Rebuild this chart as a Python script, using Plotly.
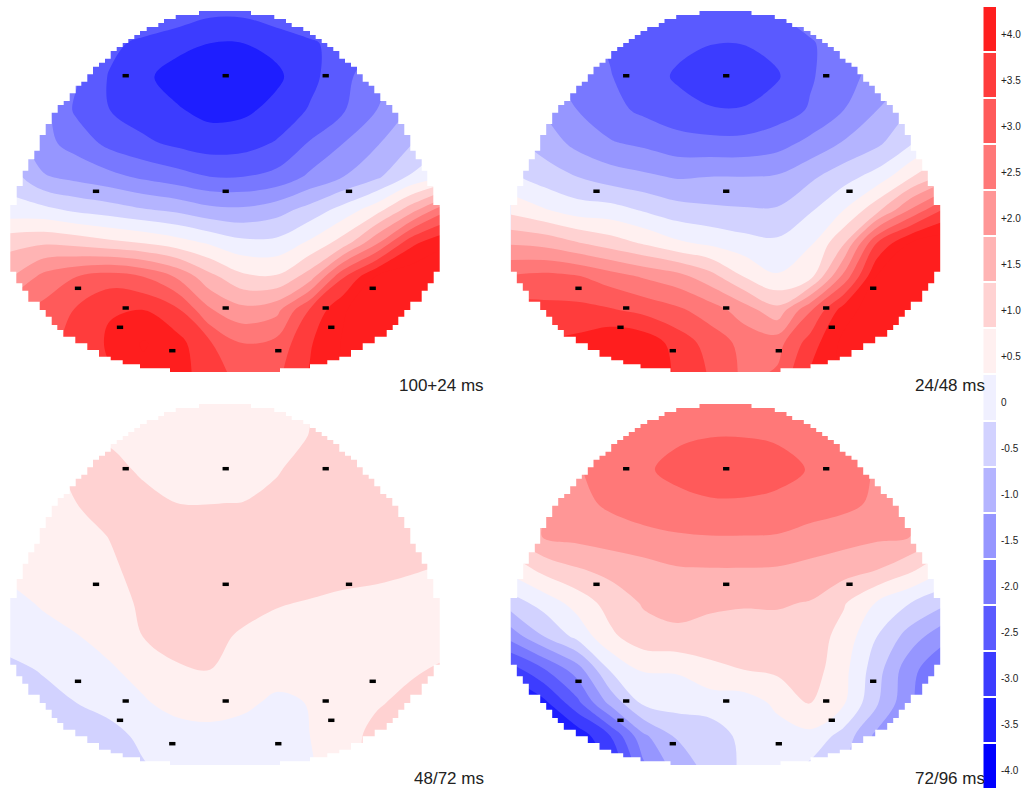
import plotly.graph_objects as go

LEVELS = [-4.0, -3.5, -3.0, -2.5, -2.0, -1.5, -1.0, -0.5, 0, 0.5, 1.0, 1.5, 2.0, 2.5, 3.0, 3.5, 4.0]
LEVEL_LABELS = ["-4.0", "-3.5", "-3.0", "-2.5", "-2.0", "-1.5", "-1.0", "-0.5", "0",
                "+0.5", "+1.0", "+1.5", "+2.0", "+2.5", "+3.0", "+3.5", "+4.0"]
LEVEL_COLORS = ["#0000ff", "#1e1eff", "#3c3cff", "#5a5aff", "#7878ff", "#9696ff", "#b4b4ff", "#d2d2ff", "#f0f0ff",
                "#fff0f0", "#ffd2d2", "#ffb4b4", "#ff9696", "#ff7878", "#ff5a5a", "#ff3c3c", "#ff1e1e"]

PANEL_TITLES = ["100+24 ms", "24/48 ms", "48/72 ms", "72/96 ms"]

GRID_X = [10, 43.3, 76.7, 110, 143.3, 176.7, 210, 243.3, 276.7, 310, 343.3, 376.7, 410, 443.3]
GRID_Y = [10, 43.3, 76.7, 110, 143.3, 176.7, 210, 243.3, 276.7, 310, 343.3, 376.7]

MAP_A = [
    [-1.3, -1.5, -1.7, -1.9, -2.1, -2.35, -2.6, -2.6, -2.35, -2.1, -1.9, -1.7, -1.5, -1.3],
    [-1.7, -2.0, -2.3, -2.6, -2.9, -3.1, -3.25, -3.25, -3.1, -2.85, -2.5, -2.2, -1.9, -1.6],
    [-1.5, -1.8, -2.2, -2.8, -3.15, -3.45, -3.7, -3.7, -3.35, -2.9, -2.4, -1.9, -1.5, -1.2],
    [-1.0, -1.6, -2.35, -2.75, -3.0, -3.2, -3.4, -3.35, -3.1, -2.7, -2.3, -1.75, -1.2, -0.8],
    [-0.9, -1.6, -1.95, -2.4, -2.65, -2.85, -3.0, -2.95, -2.7, -2.2, -1.75, -1.3, -0.8, -0.3],
    [-0.5, -1.2, -1.4, -1.6, -1.85, -2.05, -2.25, -2.25, -2.1, -1.65, -1.25, -0.85, -0.2, 0.2],
    [-0.05, -0.1, -0.35, -0.5, -0.7, -0.85, -1.1, -1.15, -0.95, -0.55, -0.05, 0.55, 1.5, 2.6],
    [1.1, 1.2, 1.1, 0.9, 0.75, 0.5, 0.2, -0.1, -0.1, 0.35, 1.0, 2.2, 3.6, 4.2],
    [1.7, 2.4, 2.75, 3.0, 2.75, 2.2, 1.4, 0.85, 0.8, 1.5, 3.2, 4.3, 4.6, 4.6],
    [2.6, 2.9, 3.3, 3.7, 3.75, 3.35, 2.3, 1.9, 2.1, 3.3, 4.2, 4.6, 4.6, 4.6],
    [3.0, 3.2, 3.3, 3.85, 4.3, 3.95, 3.3, 2.75, 2.9, 3.7, 4.3, 4.6, 4.6, 4.6],
    [3.0, 3.2, 3.4, 3.7, 4.1, 4.0, 3.45, 3.1, 3.15, 3.8, 4.3, 4.6, 4.6, 4.6],
]

MAP_B = [
    [-1.2, -1.4, -1.6, -1.9, -2.1, -2.2, -2.35, -2.35, -2.2, -2.0, -1.8, -1.5, -1.3, -1.1],
    [-1.5, -1.8, -2.0, -2.3, -2.5, -2.62, -2.73, -2.73, -2.6, -2.3, -2.0, -1.7, -1.4, -1.1],
    [-1.3, -1.6, -1.95, -2.23, -2.5, -2.82, -3.1, -3.15, -2.8, -2.3, -1.95, -1.55, -1.2, -0.9],
    [-0.9, -1.3, -1.75, -2.1, -2.35, -2.55, -2.7, -2.7, -2.5, -2.2, -1.75, -1.25, -0.75, -0.4],
    [-0.6, -0.95, -1.4, -1.7, -1.85, -2.05, -2.1, -2.1, -1.95, -1.6, -1.2, -0.85, -0.3, 0.3],
    [-0.15, -0.5, -0.75, -1.0, -1.15, -1.3, -1.25, -1.25, -1.2, -0.85, -0.45, -0.05, 0.7, 1.4],
    [0.6, 0.3, 0.0, -0.05, -0.3, -0.55, -0.65, -0.7, -0.7, -0.3, 0.25, 1.1, 2.3, 3.3],
    [1.7, 1.6, 1.3, 1.0, 0.7, 0.35, 0.15, -0.05, -0.15, 0.2, 1.2, 3.3, 4.3, 4.6],
    [2.8, 2.9, 2.8, 2.5, 2.2, 1.95, 1.45, 0.75, 0.3, 0.6, 2.4, 4.3, 4.6, 4.6],
    [3.5, 3.4, 3.4, 3.3, 3.1, 2.85, 2.5, 2.0, 1.4, 2.7, 4.0, 4.6, 4.6, 4.6],
    [3.8, 3.8, 3.9, 4.2, 4.1, 3.55, 3.05, 2.6, 2.55, 3.5, 4.4, 4.6, 4.6, 4.6],
    [3.8, 3.8, 4.0, 4.2, 4.0, 3.7, 3.2, 2.65, 2.85, 3.85, 4.4, 4.6, 4.6, 4.6],
]

MAP_C = [
    [0.6, 0.6, 0.65, 0.65, 0.55, 0.5, 0.45, 0.45, 0.5, 0.7, 0.9, 0.95, 0.95, 0.95],
    [0.6, 0.65, 0.75, 0.7, 0.55, 0.45, 0.42, 0.42, 0.5, 0.77, 0.95, 1.0, 1.0, 1.0],
    [0.6, 0.65, 0.8, 0.85, 0.7, 0.55, 0.48, 0.5, 0.72, 0.9, 1.0, 1.05, 1.05, 1.05],
    [0.55, 0.6, 0.75, 0.88, 0.85, 0.75, 0.74, 0.76, 0.85, 1.0, 1.05, 1.05, 1.05, 1.05],
    [0.5, 0.55, 0.65, 0.76, 0.88, 0.95, 1.0, 1.05, 1.05, 1.05, 1.05, 1.05, 1.0, 0.95],
    [0.35, 0.5, 0.6, 0.7, 0.85, 0.95, 1.0, 1.0, 1.0, 0.95, 0.9, 0.85, 0.78, 0.72],
    [0.12, 0.3, 0.5, 0.63, 0.8, 0.88, 0.9, 0.88, 0.78, 0.72, 0.65, 0.62, 0.6, 0.6],
    [0.0, 0.1, 0.23, 0.4, 0.76, 0.85, 0.85, 0.7, 0.6, 0.55, 0.55, 0.55, 0.55, 0.55],
    [-0.4, -0.2, -0.05, 0.2, 0.4, 0.72, 0.75, 0.55, 0.45, 0.4, 0.45, 0.6, 0.68, 0.82],
    [-0.6, -0.45, -0.25, -0.1, 0.2, 0.4, 0.45, 0.35, 0.15, 0.27, 0.5, 0.7, 0.88, 0.95],
    [-0.7, -0.6, -0.55, -0.4, -0.15, 0.05, 0.1, 0.05, 0.05, 0.25, 0.55, 0.9, 1.0, 1.0],
    [-0.8, -0.7, -0.6, -0.5, -0.3, -0.1, -0.1, -0.1, -0.05, 0.2, 0.5, 0.9, 1.0, 1.0],
]

MAP_D = [
    [1.8, 1.9, 2.1, 2.25, 2.35, 2.4, 2.45, 2.45, 2.4, 2.35, 2.2, 2.05, 1.9, 1.8],
    [1.85, 2.05, 2.25, 2.4, 2.6, 2.7, 2.74, 2.74, 2.7, 2.6, 2.4, 2.25, 2.1, 1.9],
    [1.7, 1.95, 2.2, 2.5, 2.7, 2.85, 3.0, 3.0, 2.9, 2.72, 2.5, 2.2, 1.95, 1.7],
    [1.4, 1.7, 2.1, 2.35, 2.55, 2.65, 2.7, 2.7, 2.65, 2.55, 2.4, 2.15, 1.7, 1.4],
    [1.2, 1.8, 1.9, 2.0, 2.1, 2.2, 2.24, 2.24, 2.22, 2.05, 1.95, 1.85, 1.75, 1.2],
    [0.4, 0.9, 1.2, 1.4, 1.55, 1.7, 1.72, 1.72, 1.7, 1.6, 1.45, 1.25, 0.85, 0.3],
    [-0.5, -0.05, 0.45, 0.95, 1.3, 1.4, 1.32, 1.3, 1.3, 1.22, 0.8, 0.2, -0.25, -0.65],
    [-1.55, -0.75, -0.1, 0.65, 1.05, 1.15, 1.1, 1.0, 1.05, 1.05, 0.55, -0.25, -0.98, -1.6],
    [-3.0, -2.3, -1.5, -0.2, 0.3, 0.3, 0.6, 0.75, 0.85, 1.0, 0.4, -0.55, -1.6, -2.2],
    [-4.0, -3.4, -2.4, -1.1, -0.15, -0.05, 0.0, 0.0, 0.35, 0.8, 0.3, -0.7, -1.7, -2.2],
    [-4.2, -4.0, -3.6, -2.75, -1.35, -0.7, -0.55, -0.1, 0.05, 0.1, -0.45, -1.4, -1.8, -2.2],
    [-4.2, -4.0, -3.8, -3.2, -1.9, -1.05, -0.6, -0.15, -0.1, -0.4, -0.7, -1.2, -1.6, -1.9],
]

PANEL_MAPS = [MAP_A, MAP_B, MAP_C, MAP_D]

ELECTRODE_X = [125.7, 225.7, 325.7, 96, 225.7, 349, 78, 372.7, 125.7, 225.7, 325.7, 120, 331.3, 172.3, 278.3]
ELECTRODE_Y = [75.7, 75.7, 75.7, 191.3, 191.3, 191.3, 288.3, 288.3, 308, 308, 308, 327.3, 327.3, 350.7, 350.7]

HEAD_CENTER = 225
HEAD_ROW_TOP = [11, 15, 19, 23, 27, 31, 35, 39, 43, 47, 51, 58.7, 62.7, 66.7, 74.3, 81.7, 85.7, 93.3, 101, 105,
                112.7, 124, 135, 150.7, 159.3, 170.7, 186, 205, 271.7, 283.3, 290.7, 301.7, 310, 316.7, 325,
                330, 336.7, 343.3, 350, 356.7, 360.3, 364.3, 368.3]
HEAD_HALF = [26, 49.3, 61, 66.7, 78.3, 85, 90.7, 96.7, 102.3, 108.3, 114.3, 120, 126, 132, 137.7, 143.7, 149.3,
             155.3, 161.3, 167.3, 173.3, 179.3, 185.3, 190.7, 196.7, 202.3, 208.3, 214.7, 208.7, 202.7, 196.7,
             185.3, 179.3, 173.3, 167.7, 161.7, 149.7, 137.7, 126, 114.3, 102.3, 85, 55]
HEAD_ROW_END = 372

RANGE_X = [4, 446]
RANGE_Y = [372, 11]
PANEL_OFFSETS = [(0, 0), (500.5, 0), (0, 393), (500.5, 393)]
W, H = 1028, 797

n_levels = len(LEVELS)
scale = []
for i, c in enumerate(LEVEL_COLORS):
    scale.append([i / n_levels, c])
    scale.append([(i + 1) / n_levels, c])

fig = go.Figure()
layout = dict(width=W, height=H, margin=dict(l=0, r=0, t=0, b=0), paper_bgcolor="white", plot_bgcolor="white",
              showlegend=False, autosize=False)
annotations = []

left_x, left_y, right_x, right_y = [HEAD_CENTER, HEAD_CENTER], [0, HEAD_ROW_TOP[0]], [HEAD_CENTER, HEAD_CENTER], [0, HEAD_ROW_TOP[0]]
rows_end = HEAD_ROW_TOP[1:] + [HEAD_ROW_END]
for half, top, bottom in zip(HEAD_HALF, HEAD_ROW_TOP, rows_end):
    left_x += [HEAD_CENTER - half] * 2
    left_y += [top, bottom]
    right_x += [HEAD_CENTER + half] * 2
    right_y += [top, bottom]
left_x += [HEAD_CENTER, HEAD_CENTER, 0, 0]
left_y += [HEAD_ROW_END, 400, 400, 0]
right_x += [HEAD_CENTER, HEAD_CENTER, 460, 460]
right_y += [HEAD_ROW_END, 400, 400, 0]

for k, (values, title, (dx, dy)) in enumerate(zip(PANEL_MAPS, PANEL_TITLES, PANEL_OFFSETS)):
    suffix = "" if k == 0 else str(k + 1)
    xa, ya = "x" + suffix, "y" + suffix
    layout["xaxis" + suffix] = dict(domain=[(RANGE_X[0] + dx) / W, (RANGE_X[1] + dx) / W], range=RANGE_X,
                                    visible=False, anchor=ya, fixedrange=True)
    layout["yaxis" + suffix] = dict(domain=[1 - (RANGE_Y[0] + dy) / H, 1 - (RANGE_Y[1] + dy) / H], range=RANGE_Y,
                                    visible=False, anchor=xa, fixedrange=True)
    fig.add_trace(go.Contour(x=GRID_X, y=GRID_Y, z=values, xaxis=xa, yaxis=ya, colorscale=scale,
                             zmin=-4.25, zmax=4.25, autocontour=False,
                             contours=dict(start=-4.25, end=4.25, size=0.5, coloring="fill", showlines=False),
                             line=dict(width=0), showscale=False, hoverinfo="skip"))
    for px, py in ((left_x, left_y), (right_x, right_y)):
        fig.add_trace(go.Scatter(x=px, y=py, xaxis=xa, yaxis=ya, mode="lines", fill="toself",
                                 fillcolor="white", line=dict(width=0, color="white"), hoverinfo="skip"))
    fig.add_trace(go.Scatter(x=ELECTRODE_X, y=ELECTRODE_Y, xaxis=xa, yaxis=ya, mode="markers",
                             marker=dict(symbol="line-ew", size=4.5, color="black",
                                         line=dict(width=3.5, color="black")), hoverinfo="skip"))
    annotations.append(dict(text=title, xref="paper", yref="paper", x=(485 + dx) / W, y=1 - (385.5 + dy) / H,
                            xanchor="right", yanchor="middle", showarrow=False,
                            font=dict(family="Liberation Sans, Arial", size=17, color="#222222"), borderpad=0))

fig.add_trace(go.Heatmap(x=[0], y=LEVELS, z=[[v] for v in LEVELS], xaxis="x5", yaxis="y5", colorscale=scale,
                         zmin=-4.25, zmax=4.25, ygap=2, showscale=False, hoverinfo="skip"))
layout["xaxis5"] = dict(domain=[983.3 / W, 996 / W], visible=False, anchor="y5", fixedrange=True)
layout["yaxis5"] = dict(domain=[1 - 789 / H, 1 - 6 / H], range=[-4.25, 4.25], anchor="x5", visible=False,
                        fixedrange=True)
for level, label in zip(LEVELS, LEVEL_LABELS):
    annotations.append(dict(text=label, xref="paper", yref="y5", x=1000 / W, y=level, yshift=-5,
                            xanchor="left", yanchor="middle", showarrow=False, borderpad=0,
                            font=dict(family="Liberation Sans, Arial", size=10, color="#222222")))
layout["annotations"] = annotations
fig.update_layout(**layout)
fig.write_html("out.html", config={"displayModeBar": False},
               post_script="document.body.style.margin='0';document.documentElement.style.overflow='hidden';window.dispatchEvent(new Event('resize'));")
